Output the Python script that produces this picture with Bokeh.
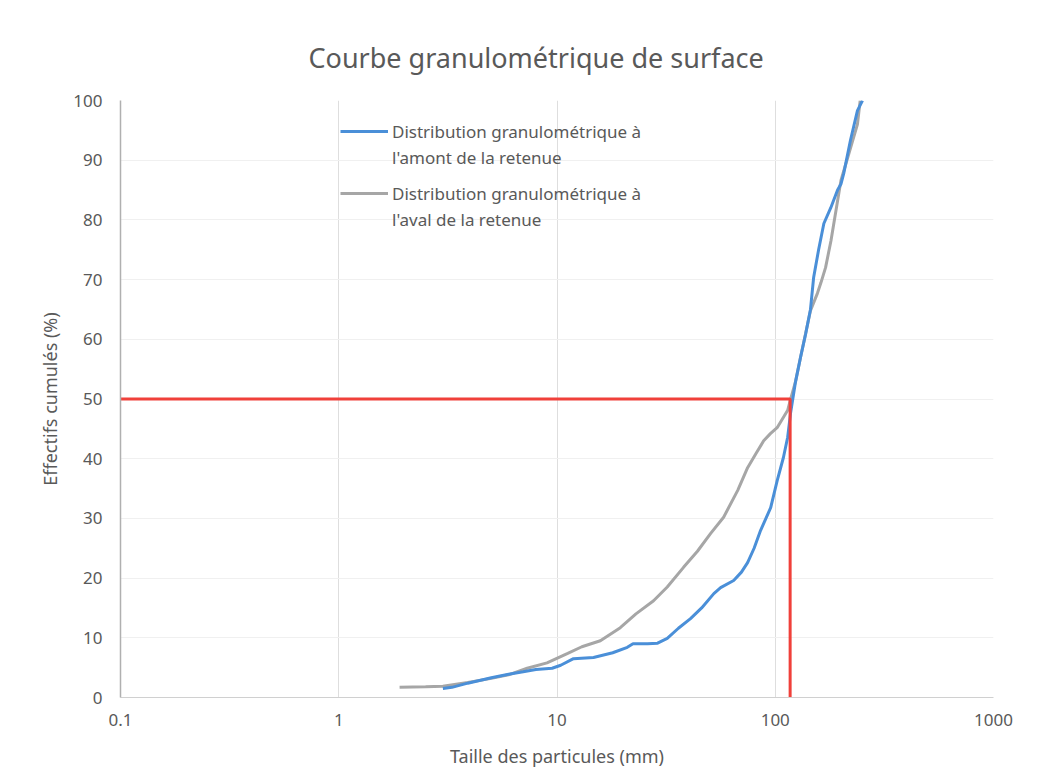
from bokeh.plotting import figure
from bokeh.models import (FixedTicker, CustomJSTickFormatter, Legend, LegendItem, Range1d)
from bokeh.embed import file_html
from bokeh.resources import INLINE

# --- data ---
amont_x = [3.0, 3.3, 3.9, 5, 6, 7, 8, 9.5, 10.4, 11.9, 14.7, 18, 21, 22.3, 26, 28.9,
           32, 36, 40.9, 46, 52.3, 56.2, 64.5, 70, 74.7, 80, 85.7, 95.3, 102, 109,
           114, 117.5, 124, 130.6, 138, 145, 150, 158, 167, 179.5, 193, 200, 206,
           221, 238, 251]
amont_y = [1.5, 1.7, 2.4, 3.3, 3.9, 4.3, 4.7, 4.9, 5.4, 6.5, 6.7, 7.5, 8.4, 9.0, 9.0, 9.1,
           9.9, 11.6, 13.2, 15.0, 17.4, 18.4, 19.6, 21.0, 22.6, 25.0, 28.0, 31.8, 36.3, 40.2,
           43.6, 47.6, 53.0, 57.0, 61.0, 65.0, 70.4, 75.0, 79.4, 82.0, 85.0, 86.0, 87.8,
           93.3, 98.3, 100]

aval_x = [1.9, 2.5, 3.0, 3.9, 5, 6, 7.3, 9, 11.2, 13, 15.8, 19.5, 23, 27.7, 32, 38, 44,
          50.6, 58, 67.3, 74.7, 82, 88.5, 95, 102, 114, 117, 124, 130.6, 145, 156, 162,
          170, 180, 200, 215, 238, 245]
aval_y = [1.7, 1.8, 1.9, 2.5, 3.2, 3.8, 4.9, 5.8, 7.4, 8.5, 9.5, 11.7, 14.0, 16.2, 18.5,
          21.8, 24.5, 27.5, 30.2, 34.7, 38.5, 41.0, 43.0, 44.2, 45.2, 48.1, 49.7, 53.0,
          57.0, 64.8, 67.7, 69.5, 72.0, 76.5, 86.6, 90.5, 96.0, 100]

d50_x = [0.1, 117, 117]
d50_y = [50, 50, 0]

x_ticks = [0.1, 1, 10, 100, 1000]
y_ticks = [0, 10, 20, 30, 40, 50, 60, 70, 80, 90, 100]

FONT = "Noto Sans"
TXT = "#595959"

p = figure(width=1029, height=774, x_axis_type="log",
           x_range=Range1d(0.1, 1000), y_range=Range1d(0, 100),
           output_backend="svg", toolbar_location=None,
           min_border_left=120, min_border_right=36, min_border_top=100, min_border_bottom=77)

p.title.text = "Courbe granulométrique de surface"
p.title.text_font = FONT
p.title.text_font_size = "27px"
p.title.text_font_style = "normal"
p.title.text_color = TXT
p.title.align = "left"
p.title.offset = 188
p.title.standoff = 50

p.outline_line_color = None
p.background_fill_color = "white"

# axes
p.xaxis.ticker = FixedTicker(ticks=x_ticks)
p.xaxis.formatter = CustomJSTickFormatter(code="return tick.toString();")
p.yaxis.ticker = FixedTicker(ticks=y_ticks)
for ax in (p.xaxis[0], p.yaxis[0]):
    ax.major_tick_line_color = None
    ax.minor_tick_line_color = None
    ax.major_label_text_font = FONT
    ax.major_label_text_font_size = "17px"
    ax.major_label_text_color = TXT
    ax.axis_label_text_font = FONT
    ax.axis_label_text_font_size = "18px"
    ax.axis_label_text_font_style = "normal"
    ax.axis_label_text_color = TXT
p.xaxis.axis_line_color = "#d0d0d0"
p.yaxis.axis_line_color = "#b0b0b0"
p.yaxis.axis_line_width = 1.5
p.xaxis.major_label_standoff = 10
p.yaxis.major_label_standoff = 12
p.xaxis.axis_label_standoff = 15
p.yaxis.axis_label_standoff = 8
p.xaxis.axis_label = "Taille des particules (mm)"
p.yaxis.axis_label = "Effectifs cumulés (%)"

p.xgrid.ticker = FixedTicker(ticks=x_ticks)
p.xgrid.grid_line_color = "#dedede"
p.ygrid.ticker = FixedTicker(ticks=y_ticks)
p.ygrid.grid_line_color = "#f0f0f0"

# lines
r_aval = p.line(aval_x, aval_y, line_color="#a6a6a6", line_width=3)
r_amont = p.line(amont_x, amont_y, line_color="#4a8fd8", line_width=3)
p.line(d50_x, d50_y, line_color="#f0403a", line_width=3)

# invisible renderer for second-line labels
blank = p.line([1, 1], [0, 0], line_alpha=0)

def make_legend(r, l1, l2, loc):
    lg = Legend(items=[LegendItem(label=l1, renderers=[r]),
                       LegendItem(label=l2, renderers=[blank])],
                location=loc, orientation="vertical",
                border_line_color=None, background_fill_alpha=0,
                padding=0, margin=0, spacing=0,
                label_text_font=FONT, label_text_font_size="17px",
                label_text_color=TXT, label_height=26,
                glyph_width=48, glyph_height=20, label_standoff=4)
    p.add_layout(lg, "center")
    return lg

make_legend(r_amont, "Distribution granulométrique à", "l'amont de la retenue", (220, 527))
make_legend(r_aval, "Distribution granulométrique à", "l'aval de la retenue", (220, 465))

open("out.html", "w").write(file_html(p, INLINE))
